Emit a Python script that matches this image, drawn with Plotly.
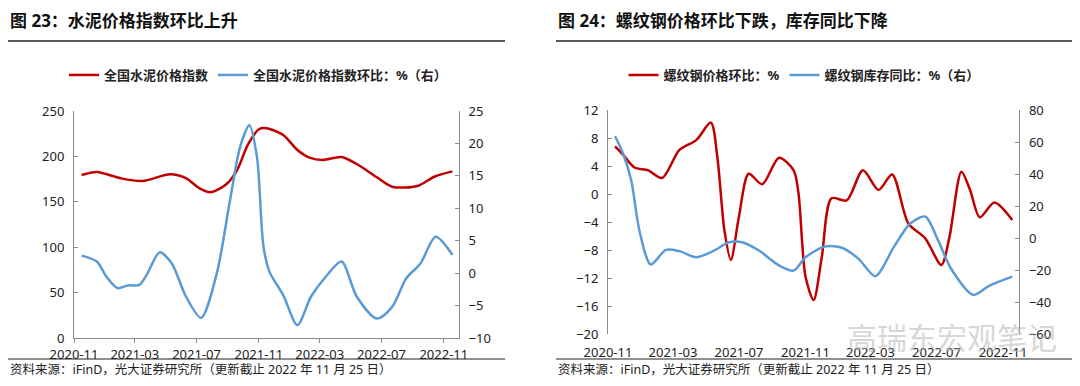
import plotly.graph_objects as go

# ---------------- data: chart 23 (cement) ----------------
cement_idx_dates = ["2020-11-16", "2020-12-16", "2021-02-01", "2021-03-16", "2021-05-10", "2021-06-10",
                    "2021-07-07", "2021-07-28", "2021-08-28", "2021-09-19", "2021-10-10", "2021-11-01",
                    "2021-11-16", "2021-12-19", "2022-01-16", "2022-02-09", "2022-03-07", "2022-04-13",
                    "2022-05-13", "2022-06-22", "2022-07-22", "2022-09-10", "2022-10-13", "2022-11-18"]
cement_idx = [179.5, 182.8, 175.9, 172.9, 180.3, 176.0,
              164.8, 160.5, 169.0, 185.0, 212.6, 229.9,
              231.0, 223.6, 207.0, 198.6, 196.0, 199.3,
              191.6, 177.0, 166.6, 167.4, 177.6, 183.5]

cement_mom_dates = ["2020-11-16", "2020-12-16", "2021-01-04", "2021-01-26", "2021-02-15", "2021-03-10",
                    "2021-03-25", "2021-04-19", "2021-05-13", "2021-06-10", "2021-07-10", "2021-08-10",
                    "2021-09-04", "2021-09-25", "2021-10-13", "2021-10-28", "2021-11-10", "2021-11-22",
                    "2021-12-19", "2022-01-16", "2022-02-12", "2022-03-13", "2022-04-13", "2022-05-13",
                    "2022-06-22", "2022-07-22", "2022-08-19", "2022-09-16", "2022-10-16", "2022-11-18"]
cement_mom = [2.7, 1.8, -0.55, -2.3, -1.9, -1.8,
              -0.2, 3.2, 1.5, -3.6, -6.9, 0.0,
              10.8, 19.5, 22.8, 18.0, 4.1, 0.2,
              -3.4, -8.0, -3.6, -0.55, 1.8, -3.6,
              -7.0, -5.2, -0.8, 1.5, 5.6, 2.8]

# ---------------- data: chart 24 (rebar) ----------------
rebar_mom_dates = ["2020-11-14", "2020-11-29", "2020-12-20", "2021-01-14", "2021-02-09", "2021-03-13",
                   "2021-04-13", "2021-05-10", "2021-05-22", "2021-06-04", "2021-06-16", "2021-07-01",
                   "2021-07-19", "2021-08-13", "2021-09-13", "2021-10-10", "2021-10-19", "2021-11-01",
                   "2021-11-16", "2021-12-01", "2021-12-19", "2022-01-16", "2022-02-15", "2022-03-16",
                   "2022-04-10", "2022-05-10", "2022-06-10", "2022-07-10", "2022-07-25", "2022-08-16",
                   "2022-09-01", "2022-09-19", "2022-10-16", "2022-11-18"]
rebar_mom = [6.8, 5.6, 3.8, 3.4, 2.3, 6.3,
             7.7, 10.2, 5.3, -5.1, -9.4, -3.2,
             2.9, 1.4, 5.2, 3.4, 0.1, -11.8,
             -15.1, -9.0, -0.6, -0.9, 3.4, 0.6,
             2.8, -4.2, -6.3, -10.1, -6.1, 3.2,
             0.6, -3.3, -1.2, -3.7]

rebar_inv_dates = ["2020-11-14", "2020-11-29", "2020-12-14", "2020-12-29", "2021-01-19", "2021-02-16",
                   "2021-03-13", "2021-04-13", "2021-05-13", "2021-06-13", "2021-07-07", "2021-08-07",
                   "2021-09-13", "2021-10-10", "2021-11-01", "2021-12-07", "2022-01-07", "2022-02-07",
                   "2022-03-10", "2022-04-13", "2022-05-13", "2022-06-10", "2022-07-04", "2022-07-28",
                   "2022-09-07", "2022-10-07", "2022-11-18"]
rebar_inv = [63.6, 52.7, 36.0, 4.8, -16.4, -7.3,
             -8.1, -11.9, -8.3, -2.5, -2.5, -7.7,
             -17.0, -20.2, -11.9, -5.2, -6.0, -12.9,
             -23.7, -5.6, 9.0, 13.5, -1.4, -19.1,
             -35.4, -29.6, -24.0]

x_range = ["2020-11-01", "2022-12-01"]

RED = "#C00000"
BLUE = "#5B9BD5"
AX = "#8C8C8C"
TXT = "#222222"
FONT = "Noto Sans, Noto Sans CJK SC, sans-serif"
OFF = 8  # page body margin
W, H = 1080 - OFF, 386 - OFF


def px(x):
    return (x - OFF) / W


def py(y):
    return 1 - (y - OFF) / H


fig = go.Figure()

fig.add_trace(go.Scatter(x=cement_idx_dates, y=cement_idx, name="全国水泥价格指数", mode="lines",
                         line=dict(color=RED, width=2.5, shape="spline", smoothing=0.8),
                         xaxis="x", yaxis="y", legend="legend"))
fig.add_trace(go.Scatter(x=cement_mom_dates, y=cement_mom, name="全国水泥价格指数环比：%（右）", mode="lines",
                         line=dict(color=BLUE, width=2.5, shape="spline", smoothing=0.8),
                         xaxis="x", yaxis="y2", legend="legend"))
fig.add_trace(go.Scatter(x=rebar_mom_dates, y=rebar_mom, name="螺纹钢价格环比：%", mode="lines",
                         line=dict(color=RED, width=2.5, shape="spline", smoothing=0.8),
                         xaxis="x2", yaxis="y3", legend="legend2"))
fig.add_trace(go.Scatter(x=rebar_inv_dates, y=rebar_inv, name="螺纹钢库存同比：%（右）", mode="lines",
                         line=dict(color=BLUE, width=2.5, shape="spline", smoothing=0.8),
                         xaxis="x2", yaxis="y4", legend="legend2"))

tickfont = dict(family=FONT, size=13, color=TXT)
left_dom_y = [py(338), py(111)]
right_dom_y = [py(334.3), py(110)]
left_dom_x = [px(74), px(459)]
right_dom_x = [px(608), px(1019.3)]

yr = [-20, 12]
zero_pos = right_dom_y[0] + (0 - yr[0]) / (yr[1] - yr[0]) * (right_dom_y[1] - right_dom_y[0])

date_ax = dict(type="date", range=x_range, tick0="2020-11-01", dtick="M4", tickformat="%Y-%m",
               showgrid=False, zeroline=False, tickfont=tickfont, fixedrange=True, automargin=False)
y_common = dict(showgrid=False, zeroline=False, showline=True, linecolor=AX, ticks="inside", ticklen=4,
                tickcolor=AX, tickfont=tickfont, ticklabelstandoff=6, automargin=False)

fig.update_layout(
    width=W, height=H,
    margin=dict(l=0, r=0, t=0, b=0, autoexpand=False),
    paper_bgcolor="white", plot_bgcolor="white",
    font=dict(family=FONT, color=TXT),
    showlegend=True,
    xaxis=dict(**date_ax, domain=left_dom_x, anchor="y", showline=True, linecolor=AX, tickcolor=AX,
               ticks="outside", ticklen=4),
    yaxis=dict(**y_common, domain=left_dom_y, anchor="x", range=[0, 250], dtick=50),
    yaxis2=dict(**y_common, domain=left_dom_y, anchor="x", overlaying="y", side="right", range=[-10, 25], dtick=5),
    xaxis2=dict(**date_ax, domain=right_dom_x, anchor="y3", showline=False, ticks="", ticklabelstandoff=9),
    xaxis3=dict(**date_ax, domain=right_dom_x, anchor="free", position=zero_pos, overlaying="x2",
                showline=True, linecolor="#404040", ticks="outside", ticklen=4, tickcolor="#404040",
                showticklabels=False),
    yaxis3=dict(**y_common, domain=right_dom_y, anchor="x2", range=yr, dtick=4),
    yaxis4=dict(**y_common, domain=right_dom_y, anchor="x2", overlaying="y3", side="right", range=[-60, 80], dtick=20),
    legend=dict(orientation="h", x=px(258), xanchor="center", y=py(75), yanchor="middle",
                font=dict(family=FONT, size=13, color=TXT, weight="bold"), itemwidth=30,
                bgcolor="rgba(0,0,0,0)"),
    legend2=dict(orientation="h", x=px(804), xanchor="center", y=py(75), yanchor="middle",
                 font=dict(family=FONT, size=13, color=TXT, weight="bold"), itemwidth=30,
                 bgcolor="rgba(0,0,0,0)"),
)

# titles, rules, sources
ann = []
ann.append(dict(text="<b>图 23：水泥价格指数环比上升</b>", x=px(8), y=py(20), xref="paper", yref="paper",
                xanchor="left", yanchor="middle", showarrow=False,
                font=dict(family=FONT, size=17, color="#111111")))
ann.append(dict(text="<b>图 24：螺纹钢价格环比下跌，库存同比下降</b>", x=px(556), y=py(20), xref="paper", yref="paper",
                xanchor="left", yanchor="middle", showarrow=False,
                font=dict(family=FONT, size=17, color="#111111")))
src = "资料来源：iFinD，光大证券研究所（更新截止 2022 年 11 月 25 日）"
ann.append(dict(text=src, x=px(8), y=py(369), xref="paper", yref="paper", xanchor="left", yanchor="middle",
                showarrow=False, font=dict(family=FONT, size=12.5, color=TXT)))
ann.append(dict(text=src, x=px(556), y=py(369), xref="paper", yref="paper", xanchor="left", yanchor="middle",
                showarrow=False, font=dict(family=FONT, size=12.5, color=TXT)))
ann.append(dict(text="高瑞东宏观笔记", x=px(952), y=py(337), xref="paper", yref="paper", xanchor="center",
                yanchor="middle", showarrow=False,
                font=dict(family=FONT, size=30, color="rgba(175,175,175,0.5)")))
fig.update_layout(annotations=ann)

shapes = []
for x0, x1 in [(8, 505), (556, 1080)]:
    shapes.append(dict(type="line", xref="paper", yref="paper", x0=px(x0), x1=px(x1), y0=py(41), y1=py(41),
                       line=dict(color="#222222", width=1.5)))
    shapes.append(dict(type="line", xref="paper", yref="paper", x0=px(x0), x1=px(x1), y0=py(359), y1=py(359),
                       line=dict(color="#222222", width=1.2)))
fig.update_layout(shapes=shapes)

fig.write_html("out.html")
